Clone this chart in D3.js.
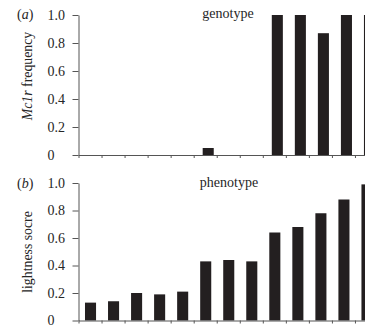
<!DOCTYPE html>
<html>
<head>
<meta charset="utf-8">
<script src="https://cdn.jsdelivr.net/npm/d3@7"></script>
<style>
body { margin: 0; background: #fff; }
text { font-family: "Liberation Serif", "DejaVu Serif", serif; fill: #262626; }
</style>
</head>
<body>
<script>
// 13 populations, left to right
var populations = d3.range(1, 14);
var genotype = [0, 0, 0, 0, 0, 0.05, 0, 0, 1.0, 1.0, 0.87, 1.0, 1.0];
var phenotype = [0.13, 0.14, 0.20, 0.19, 0.21, 0.43, 0.44, 0.43, 0.64, 0.68, 0.78, 0.88, 0.99];
var yTicks = [0, 0.2, 0.4, 0.6, 0.8, 1.0];

function init() {
    var w = 365;
    var h = 326;
    var svg = d3.select("body").append("svg").attr("width", w).attr("height", h);

    var x = d3.scaleBand().domain(populations).range([78.5, 378]).padding(0);
    var xTick = d3.scaleLinear().domain([0, populations.length]).range([78.5, 378]);
    var barW = x.bandwidth() * 0.48;

    var panels = [
        { tag: "a", values: genotype, top: 15, bottom: 155, title: "genotype", titleY: 18, label: "frequency", italic: "Mc1r ", labelY: 76, shift: 3 },
        { tag: "b", values: phenotype, top: 183, bottom: 320.5, title: "phenotype", titleY: 187, label: "lightness socre", italic: "", labelY: 252, shift: 0.5 }
    ];

    panels.forEach(function (p) {
        var y = d3.scaleLinear().domain([0, 1]).range([p.bottom, p.top]);
        var g = svg.append("g");

        g.selectAll("rect.bar")
            .data(p.values)
            .enter()
            .append("rect")
            .attr("class", "bar")
            .attr("x", function (d, i) { return x(populations[i]) + (x.bandwidth() - barW) / 2 + p.shift; })
            .attr("width", barW)
            .attr("y", function (d) { return y(d); })
            .attr("height", function (d) { return y(0) - y(d); })
            .attr("fill", "#231f20");

        // y axis
        var yAxis = g.append("g")
            .attr("transform", "translate(78.5,0)")
            .call(d3.axisLeft(y).tickValues(yTicks).tickSize(6).tickSizeOuter(0)
                .tickFormat(function (d) { return d === 0 ? "0" : d3.format(".1f")(d); }));
        yAxis.selectAll("path, line").attr("stroke", "#555");
        yAxis.selectAll("text")
            .attr("text-anchor", "start")
            .attr("x", -31)
            .style("font-size", "14px")
            .style("font-family", "Liberation Serif");

        // x axis, ticks at band edges
        var xAxis = g.append("g")
            .attr("transform", "translate(0," + y(0) + ")")
            .call(d3.axisBottom(xTick).tickValues(d3.range(0, populations.length + 1)).tickSize(3).tickSizeOuter(0).tickFormat(""));
        xAxis.selectAll("path, line").attr("stroke", "#555");

        svg.append("text")
            .attr("x", 17)
            .attr("y", p.titleY + 1)
            .style("font-size", "14px")
            .html("(<tspan font-style='italic'>" + p.tag + "</tspan>)");

        svg.append("text")
            .attr("x", p.tag === "a" ? 228 : 229)
            .attr("y", p.titleY)
            .attr("text-anchor", "middle")
            .style("font-size", "14px")
            .text(p.title);

        var lab = svg.append("text")
            .attr("transform", "translate(32," + p.labelY + ") rotate(-90)")
            .attr("text-anchor", "middle")
            .style("font-size", "13.8px");
        if (p.italic) {
            lab.append("tspan").attr("font-style", "italic").text(p.italic);
        }
        lab.append("tspan").text(p.label);
    });
}

window.onload = init;
</script>
</body>
</html>
